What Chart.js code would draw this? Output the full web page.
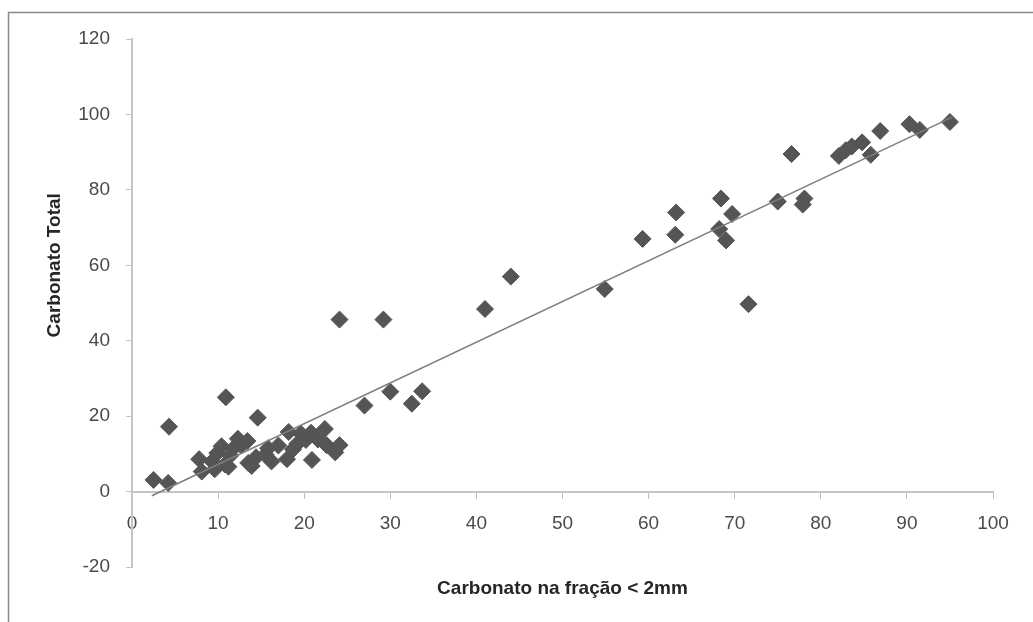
<!DOCTYPE html>
<html>
<head>
<meta charset="utf-8">
<script src="https://cdn.jsdelivr.net/npm/chart.js@4/dist/chart.umd.min.js"></script>
<style>
  html, body { margin: 0; padding: 0; background: #fff; }
  #wrap { width: 1033px; height: 622px; position: relative; }
  canvas { display: block; }
</style>
</head>
<body>
<div id="wrap"><canvas id="grafico" width="1033" height="622"></canvas></div>
<script>
// Datos
const fracaoX = [
    2.5, 4.2, 4.3, 10.9, 14.6,
    7.8, 8.1, 9.3, 9.6, 9.9, 10.4, 10.8, 11.2, 11.4, 11.8, 12.3, 12.7, 13.4, 13.5, 13.9, 14.4, 15.5, 15.8,
    16.2, 17.0, 18.0, 18.2, 18.7, 19.2, 19.6, 20.2, 20.8, 20.9, 21.6, 22.4, 22.6, 23.6, 24.1,
    24.1, 29.2, 27.0, 30.0, 32.5, 33.7, 41.0, 44.0, 54.9, 59.3,
    63.2, 63.1, 68.4, 69.7, 68.2, 69.0, 71.6, 75.0, 78.1, 77.9, 76.6,
    82.1, 82.9, 83.6, 84.8, 85.8, 86.9, 90.3, 91.5, 95.0
];
const totalY = [
    3.1, 2.3, 17.2, 25.0, 19.6,
    8.6, 5.3, 8.0, 5.9, 10.2, 12.0, 7.2, 6.6, 9.5, 11.5, 14.0, 12.2, 13.4, 7.6, 6.8, 9.1, 9.8, 11.5,
    8.0, 12.2, 8.6, 15.8, 11.2, 12.7, 15.4, 13.7, 15.6, 8.4, 13.8, 16.6, 12.3, 10.4, 12.3,
    45.6, 45.6, 22.8, 26.5, 23.3, 26.6, 48.4, 57.0, 53.7, 67.0,
    74.0, 68.1, 77.7, 73.6, 69.6, 66.6, 49.7, 76.9, 77.7, 76.1, 89.5,
    89.0, 90.5, 91.5, 92.6, 89.3, 95.6, 97.4, 95.9, 98.0
];
// Linha de tendência (extremos)
const tendX = [2.3, 95.2];
const tendY = [-1.1, 99.2];

const xTicks = [0, 10, 20, 30, 40, 50, 60, 70, 80, 90, 100];
const yTicks = [-20, 0, 20, 40, 60, 80, 100, 120];

const tituloX = 'Carbonato na fração < 2mm';
const tituloY = 'Carbonato Total';

(function() {
    'use strict';

    const pontos = fracaoX.map(function(x, i) { return { x: x, y: totalY[i] }; });
    const linha = tendX.map(function(x, i) { return { x: x, y: tendY[i] }; });

    const fonteTicks = { family: "'Liberation Sans', Arial, sans-serif", size: 19 };

    // fondo, borde y títulos de ejes
    const decoracao = {
        id: 'decoracao',
        beforeDraw: function(chart) {
            const ctx = chart.ctx;
            ctx.save();
            ctx.fillStyle = '#ffffff';
            ctx.fillRect(0, 0, chart.width, chart.height);
            ctx.strokeStyle = '#8a8a8a';
            ctx.lineWidth = 1.5;
            ctx.beginPath();
            ctx.moveTo(8.5, chart.height);
            ctx.lineTo(8.5, 12.5);
            ctx.lineTo(chart.width, 12.5);
            ctx.stroke();
            ctx.restore();
        },
        afterDraw: function(chart) {
            const ctx = chart.ctx;
            const xs = chart.scales.x;
            const ys = chart.scales.y;
            ctx.save();
            ctx.fillStyle = '#262626';
            ctx.font = "bold 19px 'Liberation Sans', Arial, sans-serif";
            ctx.textAlign = 'center';
            ctx.textBaseline = 'middle';
            ctx.fillText(tituloX, xs.getPixelForValue(50), 589);
            ctx.translate(55, ys.getPixelForValue(60));
            ctx.rotate(-Math.PI / 2);
            ctx.fillText(tituloY, 0, 0);
            ctx.restore();
        }
    };

    new Chart(document.getElementById('grafico'), {
        type: 'scatter',
        data: {
            datasets: [{
                label: 'Carbonato',
                data: pontos,
                pointStyle: 'rectRot',
                pointRadius: 8.5,
                pointHoverRadius: 8.5,
                backgroundColor: '#555555',
                borderColor: '#555555',
                borderWidth: 1,
                order: 1
            }, {
                type: 'line',
                label: 'Tendência',
                data: linha,
                borderColor: '#7f7f7f',
                borderWidth: 1.5,
                pointRadius: 0,
                fill: false,
                order: 0
            }]
        },
        options: {
            responsive: false,
            maintainAspectRatio: false,
            animation: false,
            devicePixelRatio: 1,
            layout: { padding: { left: 0, top: 39, right: 40, bottom: 55 } },
            plugins: {
                legend: { display: false },
                tooltip: { enabled: false }
            },
            scales: {
                x: {
                    type: 'linear',
                    position: { y: 0 },
                    min: 0,
                    max: 100,
                    afterBuildTicks: function(scale) {
                        scale.ticks = xTicks.map(function(v) { return { value: v }; });
                    },
                    grid: { drawOnChartArea: false, drawTicks: true, tickLength: 6, color: '#bfbfbf', lineWidth: 1 },
                    border: { color: '#c4c4c4', width: 2 },
                    ticks: { color: '#4a4a4a', font: fonteTicks, padding: 15, maxRotation: 0, autoSkip: false }
                },
                y: {
                    type: 'linear',
                    min: -20,
                    max: 120,
                    afterBuildTicks: function(scale) {
                        scale.ticks = yTicks.map(function(v) { return { value: v }; });
                    },
                    afterFit: function(scale) {
                        scale.width = 132;
                    },
                    grid: { drawOnChartArea: false, drawTicks: true, tickLength: 6, color: '#bfbfbf', lineWidth: 1 },
                    border: { color: '#c4c4c4', width: 2 },
                    ticks: { color: '#4a4a4a', font: fonteTicks, padding: 16, autoSkip: false }
                }
            }
        },
        plugins: [decoracao]
    });
})();
</script>
</body>
</html>
